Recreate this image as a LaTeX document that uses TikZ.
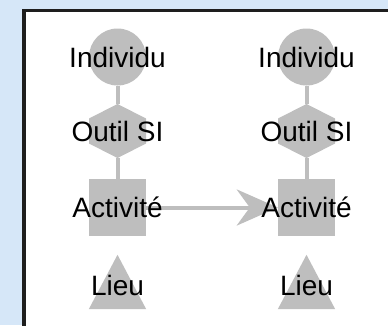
\documentclass[tikz,border=0pt]{standalone}
\usepackage{fontspec}
\setmainfont{Liberation Sans}
\usetikzlibrary{shapes.geometric,shapes.symbols,arrows.meta}
\definecolor{fond}{RGB}{214,231,248}
\definecolor{gris}{RGB}{190,190,190}
\definecolor{cadre}{RGB}{30,30,30}
\tikzstyle{individu}=[circle,fill=gris,minimum size=57pt,inner sep=0pt]
\tikzstyle{outil}=[signal,signal to=north and south,signal pointer angle=126,fill=gris,minimum width=57pt,minimum height=25pt,inner sep=0pt]
\tikzstyle{activite}=[rectangle,fill=gris,minimum size=57pt,inner sep=0pt]
\tikzstyle{lieu}=[rectangle,minimum width=57pt,minimum height=54pt,inner sep=0pt]
\tikzstyle{lien}=[draw=gris,line width=4pt]
\pgfdeclarelayer{cadre}
\pgfdeclarelayer{background}
\pgfsetlayers{cadre,background,main}

\begin{document}
\begin{tikzpicture}[x=1pt,y=-1pt,every label/.style={font=\fontsize{28pt}{32pt}\selectfont,inner sep=0pt}]
    \clip (0,0) rectangle (388,325);
    \begin{pgfonlayer}{cadre}
    \fill[fond] (0,0) rectangle (388,325);
    \draw[cadre,line width=3.5pt,fill=white] (24,10.7) rectangle (420,360);
    \end{pgfonlayer}
%   colonne gauche
    \node[individu,label=center:Individu] (indivg) at (117.5,57)  {};
    \node[outil,label=center:Outil SI]    (outilg) at (117.5,131) {};
    \node[activite,label=center:Activité] (actg)   at (117.5,207.5) {};
    \node[lieu,label={[yshift=-3pt]center:Lieu}] (lieug) at (117.5,282) {};
%   colonne droite
    \node[individu,label=center:Individu] (indivd) at (306.5,57)  {};
    \node[outil,label=center:Outil SI]    (outild) at (306.5,131) {};
    \node[activite,label=center:Activité] (actd)   at (306.5,207.5) {};
    \node[lieu,label={[yshift=-3pt]center:Lieu}] (lieud) at (306.5,282) {};
    \begin{pgfonlayer}{background}
%   triangles des lieux
	 \fill[gris] (lieug.south west) -- (lieug.south east) -- (lieug.north) -- cycle;
	 \fill[gris] (lieud.south west) -- (lieud.south east) -- (lieud.north) -- cycle;
	 \draw[lien] (indivg) -- (outilg) -- (actg);
	 \draw[lien] (indivd) -- (outild) -- (actd);
	 \draw[lien,-{Stealth[length=41pt,width=36pt,inset=13pt]}] (actg.east) -- (actd.west);
    \end{pgfonlayer}
\end{tikzpicture}
\end{document}
